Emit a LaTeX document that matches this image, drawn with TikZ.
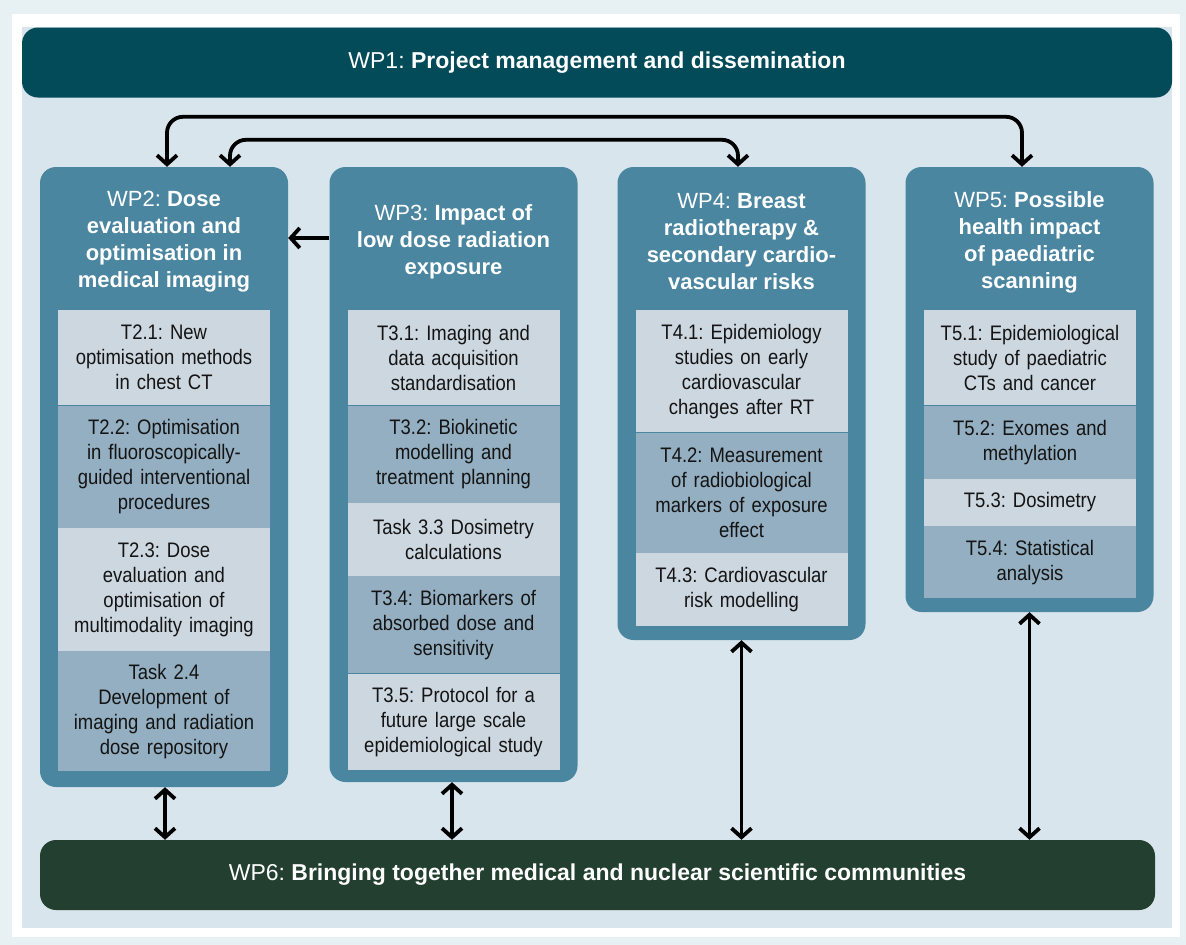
\documentclass[tikz,border=0pt]{standalone}
\usepackage{fontspec}
\setmainfont{Liberation Sans}
\newfontfamily\taskfont{Liberation Sans}[FakeStretch=0.88]
\usetikzlibrary{arrows.meta}
\frenchspacing
\definecolor{outerbg}{HTML}{E7F0F3}
\definecolor{panelbg}{HTML}{D9E5EC}
\definecolor{wpone}{HTML}{044B59}
\definecolor{colblue}{HTML}{4A86A0}
\definecolor{tlight}{HTML}{CDD7E0}
\definecolor{tdark}{HTML}{94AFC1}
\definecolor{wpsix}{HTML}{233F2F}
\definecolor{tasktext}{HTML}{141414}
\tikzset{
  barbar/.style={line width=3.8pt, draw=black},
  bartip/.tip={Straight Barb[length=9pt,width=20pt,line width=3.8pt]},
  wpbar/.style={rounded corners=16pt, minimum height=70pt, inner sep=0pt, text=white, font=\fontsize{23}{27}\selectfont},
  wpbox/.style={fill=colblue, rounded corners=16pt, minimum width=248pt, inner sep=0pt},
  wptitle/.style={text=white, align=center, font=\fontsize{22}{27}\selectfont, inner sep=0pt},
  taskbox/.style={minimum width=212pt, inner sep=0pt, text width=208pt, align=center, text=tasktext, font=\taskfont\fontsize{21}{25}\selectfont, anchor=north},
  lt/.style={taskbox, fill=tlight},
  dk/.style={taskbox, fill=tdark}
}
\begin{document}
\begin{tikzpicture}[x=1pt,y=-1pt]
\useasboundingbox (0,0) rectangle (1186,945);
\fill[outerbg] (0,0) rectangle (1186,945);
\fill[white] (12,14) rectangle (1180,937);
\fill[panelbg] (22,27) rectangle (1172,928);

% WP1 and WP6
\node[wpbar, fill=wpone, minimum width=1150pt] (wp1) at (597,62.5) {WP1: \textbf{Project management and dissemination}};
\node[wpbar, fill=wpsix, minimum width=1115pt] (wp6) at (597.5,875) {WP6: \textbf{Bringing together medical and nuclear scientific communities}};

% columns
\node[wpbox, minimum height=620pt] (wp2) at (164,477) {};
\node[wpbox, minimum height=615pt] (wp3) at (453.5,474.5) {};
\node[wpbox, minimum height=473pt] (wp4) at (741.5,403.5) {};
\node[wpbox, minimum height=445pt] (wp5) at (1029.5,389.5) {};

% titles
\node[wptitle] (wp2t) at (164,242) {WP2: \textbf{Dose}\\\textbf{evaluation and}\\\textbf{optimisation in}\\\textbf{medical imaging}};
\node[wptitle] (wp3t) at (453.5,242) {WP3: \textbf{Impact of}\\\textbf{low dose radiation}\\\textbf{exposure}};
\node[wptitle] (wp4t) at (741.5,242) {WP4: \textbf{Breast}\\\textbf{radiotherapy \&}\\\textbf{secondary cardio-}\\\textbf{vascular risks}};
\node[wptitle] (wp5t) at (1029.5,242) {WP5: \textbf{Possible}\\\textbf{health impact}\\\textbf{of paediatric}\\\textbf{scanning}};

% WP2 tasks
\node[lt, minimum height=95pt] (t21) at (164,310) {T2.1: New\\optimisation methods\\in chest CT};
\node[dk, minimum height=122pt] (t22) at (t21.south) {T2.2: Optimisation\\in fluoroscopically-\\guided interventional\\procedures};
\node[lt, minimum height=123pt] (t23) at (t22.south) {T2.3: Dose\\evaluation and\\optimisation of\\multimodality imaging};
\node[dk, minimum height=120pt] (t24) at (t23.south) {Task 2.4\\Development of\\imaging and radiation\\dose repository};

% WP3 tasks
\node[lt, minimum height=95pt] (t31) at (453.5,310) {T3.1: Imaging and\\data acquisition\\standardisation};
\node[dk, minimum height=97pt] (t32) at (t31.south) {T3.2: Biokinetic\\modelling and\\treatment planning};
\node[lt, minimum height=73pt] (t33) at (t32.south) {Task 3.3 Dosimetry\\calculations};
\node[dk, minimum height=97pt] (t34) at (t33.south) {T3.4: Biomarkers of\\absorbed dose and\\sensitivity};
\node[lt, minimum height=96pt] (t35) at (t34.south) {T3.5: Protocol for a\\future large scale\\epidemiological study};

% WP4 tasks
\node[lt, minimum height=122pt] (t41) at (741.5,310) {T4.1: Epidemiology\\studies on early\\cardiovascular\\changes after RT};
\node[dk, minimum height=120pt] (t42) at (t41.south) {T4.2: Measurement\\of radiobiological\\markers of exposure\\effect};
\node[lt, minimum height=73pt] (t43) at (t42.south) {T4.3: Cardiovascular\\risk modelling};

% WP5 tasks
\node[lt, minimum height=95pt] (t51) at (1030,310) {T5.1: Epidemiological\\study of paediatric\\CTs and cancer};
\node[dk, minimum height=73pt] (t52) at (t51.south) {T5.2: Exomes and\\methylation};
\node[lt, minimum height=47pt] (t53) at (t52.south) {T5.3: Dosimetry};
\node[dk, minimum height=72pt] (t54) at (t53.south) {T5.4: Statistical\\analysis};

% top connectors
\draw[barbar, rounded corners=16pt, bartip-bartip] ([xshift=3pt]wp2.north) -- ++(0,-50) -| ([xshift=-7.5pt]wp5.north);
\draw[barbar, rounded corners=16pt, bartip-bartip] ([xshift=66pt]wp2.north) -- ++(0,-27) -| ([xshift=-3.5pt]wp4.north);
% WP3 -> WP2
\coordinate (w3a) at ([yshift=236.5pt]wp3.west);
\draw[barbar, -bartip] (w3a) -- (w3a -| wp2.east);
% vertical connectors to WP6
\draw[barbar, bartip-bartip] ([xshift=1pt]wp2.south) -- ([xshift=1pt]wp2.south |- wp6.north);
\draw[barbar, bartip-bartip] ([xshift=-1.5pt]wp3.south) -- ([xshift=-1.5pt]wp3.south |- wp6.north);
\draw[barbar, bartip-bartip] (wp4.south) -- (wp4.south |- wp6.north);
\draw[barbar, bartip-bartip] (wp5.south) -- (wp5.south |- wp6.north);
\end{tikzpicture}
\end{document}
